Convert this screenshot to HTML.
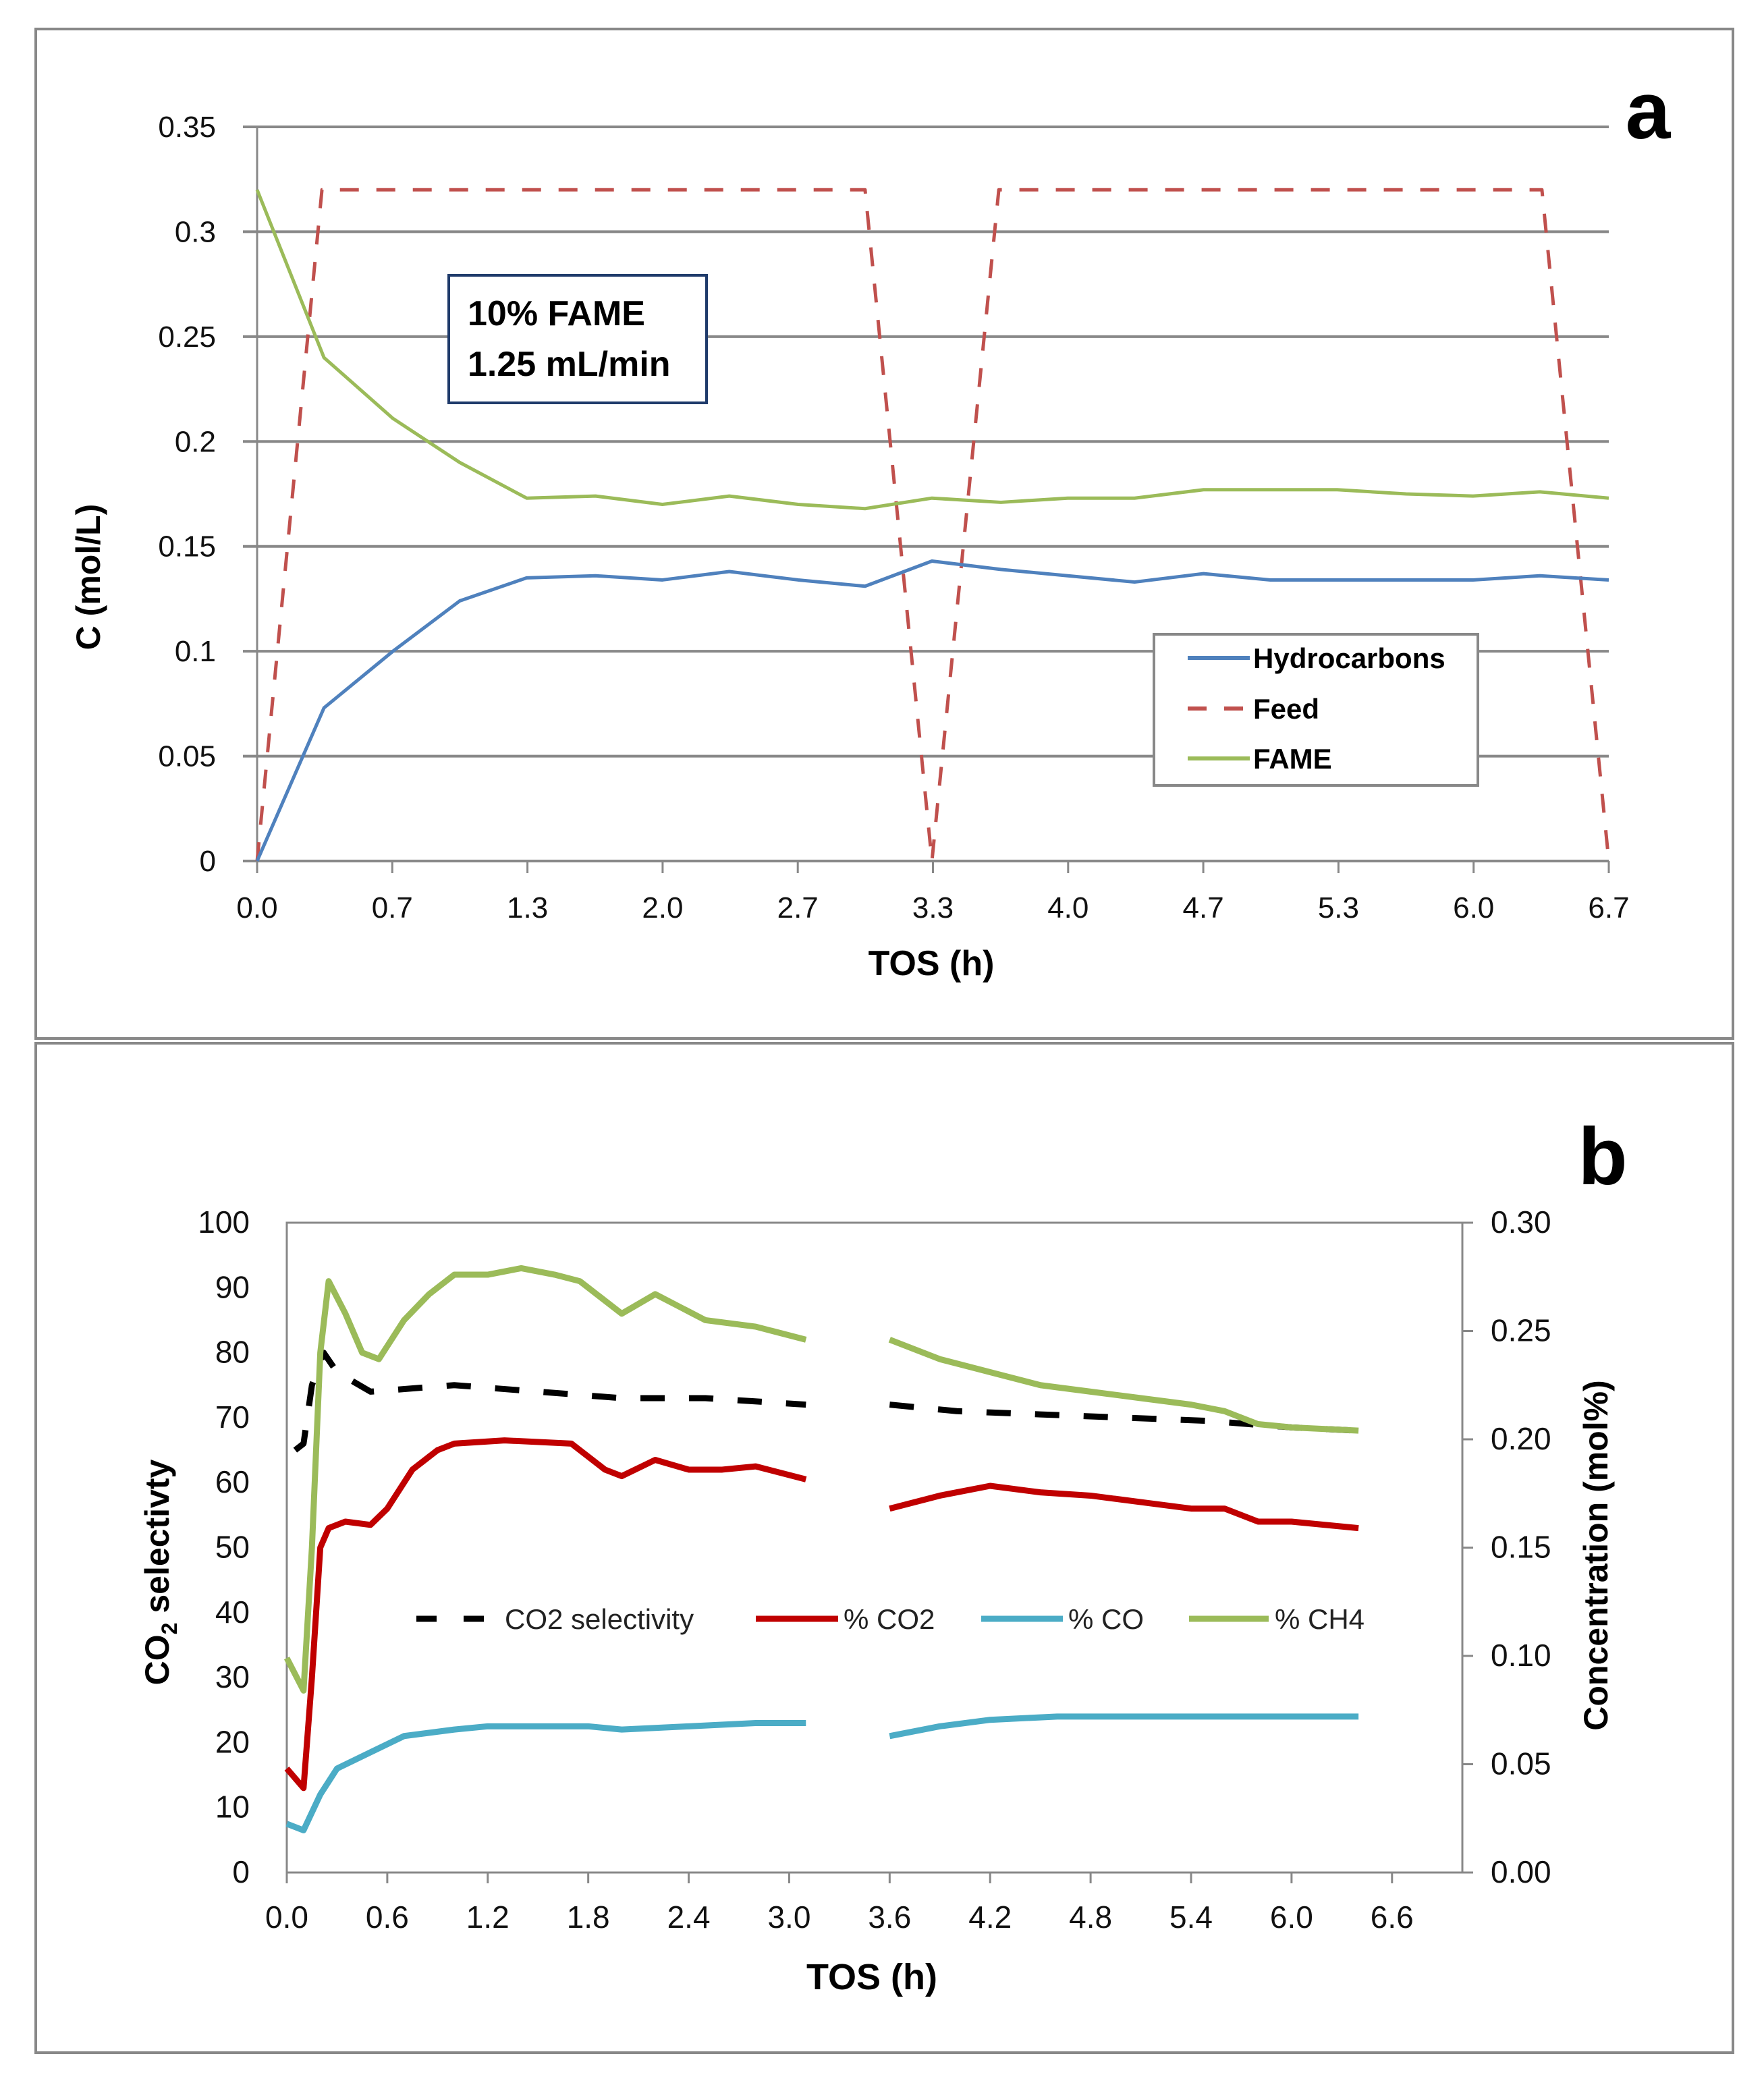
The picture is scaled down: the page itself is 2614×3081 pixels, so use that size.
<!DOCTYPE html>
<html><head><meta charset="utf-8"><style>
html,body{margin:0;padding:0;background:#fff;}
svg{display:block;font-family:"Liberation Sans",sans-serif;}
</style></head><body>
<svg id="fig" width="2614" height="3081" viewBox="0 0 2614 3081">
<rect x="53" y="43" width="2515" height="1496" fill="none" stroke="#888" stroke-width="4"/>
<rect x="53" y="1546" width="2515" height="1496" fill="none" stroke="#888" stroke-width="4"/>
<g id="pa"></g>
<g id="pb"></g>
<text x="2442" y="205" font-size="120" font-weight="bold" text-anchor="middle">a</text>
<text x="2375" y="1755" font-size="120" font-weight="bold" text-anchor="middle">b</text>
</svg>
<script>
// ---------- Panel a data ----------
const aTicksX = ["0.0","0.7","1.3","2.0","2.7","3.3","4.0","4.7","5.3","6.0","6.7"];
const aTicksY = ["0","0.05","0.1","0.15","0.2","0.25","0.3","0.35"];
const hcT = [0,0.33,0.67,1.0,1.33,1.67,2.0,2.33,2.67,3.0,3.33,3.67,4.0,4.33,4.67,5.0,5.33,6.0,6.33,6.67];
const hcV = [0,0.073,0.1,0.124,0.135,0.136,0.134,0.138,0.134,0.131,0.143,0.139,0.136,0.133,0.137,0.134,0.134,0.134,0.136,0.134];
const feedT = [0,0.32,3.0,3.33,3.66,6.34,6.67];
const feedV = [0,0.32,0.32,0,0.32,0.32,0];
const fameT = [0,0.33,0.67,1.0,1.33,1.67,2.0,2.33,2.67,3.0,3.33,3.67,4.0,4.33,4.67,5.0,5.33,5.67,6.0,6.33,6.67];
const fameV = [0.32,0.24,0.211,0.19,0.173,0.174,0.17,0.174,0.17,0.168,0.173,0.171,0.173,0.173,0.177,0.177,0.177,0.175,0.174,0.176,0.173];
// ---------- Panel b data ----------
const bTicksX = ["0.0","0.6","1.2","1.8","2.4","3.0","3.6","4.2","4.8","5.4","6.0","6.6"];
const bTicksL = ["0","10","20","30","40","50","60","70","80","90","100"];
const bTicksR = ["0.00","0.05","0.10","0.15","0.20","0.25","0.30"];
const selT1 = [0.05,0.1,0.15,0.22,0.3,0.5,1.0,1.5,2.0,2.5,3.1];
const selV1 = [65,66,75,80,77,74,75,74,73,73,72];
const selT2 = [3.6,4.0,4.5,5.0,5.5,6.0,6.4];
const selV2 = [72,71,70.5,70,69.5,68.5,68];
const co2T1 = [0,0.1,0.15,0.2,0.25,0.35,0.5,0.6,0.75,0.9,1.0,1.3,1.7,1.9,2.0,2.2,2.4,2.6,2.8,3.1];
const co2V1 = [0.048,0.039,0.09,0.15,0.159,0.162,0.1605,0.168,0.186,0.195,0.198,0.1995,0.198,0.186,0.183,0.1905,0.186,0.186,0.1875,0.1815];
const co2T2 = [3.6,3.9,4.2,4.5,4.8,5.1,5.4,5.6,5.8,6.0,6.4];
const co2V2 = [0.168,0.174,0.1785,0.1755,0.174,0.171,0.168,0.168,0.162,0.162,0.159];
const coT1 = [0,0.1,0.2,0.3,0.5,0.7,1.0,1.2,1.8,2.0,2.4,2.8,3.1];
const coV1 = [0.0225,0.0195,0.036,0.048,0.0555,0.063,0.066,0.0675,0.0675,0.066,0.0675,0.069,0.069];
const coT2 = [3.6,3.9,4.2,4.6,5.0,5.5,6.0,6.4];
const coV2 = [0.063,0.0675,0.0705,0.072,0.072,0.072,0.072,0.072];
const ch4T1 = [0,0.1,0.15,0.2,0.25,0.35,0.45,0.55,0.7,0.85,1.0,1.2,1.4,1.6,1.75,1.9,2.0,2.2,2.35,2.5,2.8,3.1];
const ch4V1 = [0.099,0.084,0.15,0.24,0.273,0.258,0.24,0.237,0.255,0.267,0.276,0.276,0.279,0.276,0.273,0.264,0.258,0.267,0.261,0.255,0.252,0.246];
const ch4T2 = [3.6,3.9,4.2,4.5,4.8,5.1,5.4,5.6,5.8,6.0,6.4];
const ch4V2 = [0.246,0.237,0.231,0.225,0.222,0.219,0.216,0.213,0.207,0.2055,0.204];

const NS="http://www.w3.org/2000/svg";
function mk(tag,attrs,parent){const e=document.createElementNS(NS,tag);for(const k in attrs)e.setAttribute(k,attrs[k]);parent.appendChild(e);return e;}
function txt(s,attrs,parent){const e=mk("text",attrs,parent);e.textContent=s;return e;}

// ---------- Panel a ----------
const pa=document.getElementById("pa");
const aL=381,aR=2384,aT=188,aB=1276,aXmax=6.67,aYmax=0.35;
const ax=t=>aL+t/aXmax*(aR-aL);
const ay=v=>aB-v/aYmax*(aB-aT);
aTicksY.forEach((s,i)=>{
  const v=i*0.05,y=ay(v);
  const g=mk("line",{x1:360,x2:aR,y1:y,y2:y,stroke:"#888","stroke-width":4},pa);
  
  
  const t=txt(s,{x:320,y:y+15,"font-size":44,"text-anchor":"end",fill:"#111"},pa);
  
  
});
mk("line",{x1:aL,x2:aL,y1:aT,y2:aB,stroke:"#888","stroke-width":3},pa);
aTicksX.forEach((s,i)=>{
  const x=aL+i*(aR-aL)/10;
  const k=mk("line",{x1:x,x2:x,y1:aB,y2:aB+18,stroke:"#888","stroke-width":3},pa);
  
  
  const t=txt(s,{x:x,y:1360,"font-size":44,"text-anchor":"middle",fill:"#111"},pa);
  
  
});
function poly(T,V,fx,fy,attrs,parent,name){
  const p=mk("polyline",Object.assign({points:T.map((t,i)=>fx(t)+","+fy(V[i])).join(" "),fill:"none","stroke-linejoin":"round"},attrs),parent);
  
  
  return p;
}
poly(feedT,feedV,ax,ay,{stroke:"#c0504d","stroke-width":5,"stroke-dasharray":"28 26"},pa,"feed-line");
poly(fameT,fameV,ax,ay,{stroke:"#9bbb59","stroke-width":5},pa,"fame-line");
poly(hcT,hcV,ax,ay,{stroke:"#4f81bd","stroke-width":5},pa,"hydrocarbons-line");
const tA=txt("TOS (h)",{x:1380,y:1445,"font-size":52,"font-weight":"bold","text-anchor":"middle"},pa);


const yA=txt("C (mol/L)",{x:0,y:0,"font-size":50,"font-weight":"bold","text-anchor":"middle",transform:"translate(148,855) rotate(-90)"},pa);


// annotation box
const bx=mk("rect",{x:665,y:408,width:382,height:189,fill:"#fff",stroke:"#1f3b6b","stroke-width":4},pa);


const a1=txt("10% FAME",{x:693,y:482,"font-size":52,"font-weight":"bold"},pa);


const a2=txt("1.25 mL/min",{x:693,y:557,"font-size":52,"font-weight":"bold"},pa);


// legend a
const lg=mk("rect",{x:1710,y:940,width:480,height:224,fill:"#fff",stroke:"#888","stroke-width":4},pa);


[["Hydrocarbons","#4f81bd",null,975],["Feed","#c0504d","28 26",1050],["FAME","#9bbb59",null,1124]].forEach(([n,c,d,y])=>{
  const l=mk("line",{x1:1760,x2:1852,y1:y,y2:y,stroke:c,"stroke-width":6},pa);
  if(d)l.setAttribute("stroke-dasharray",d);
  
  
  const t=txt(n,{x:1857,y:y+15,"font-size":42,"font-weight":"bold"},pa);
  
  
});

// ---------- Panel b ----------
const pb=document.getElementById("pb");
const bL=425,bR=2167,bT=1812,bB=2775,bXmax=7.02;
const bx2=t=>bL+t/bXmax*(bR-bL);
const byL=v=>bB-v/100*(bB-bT);
const byR=v=>bB-v/0.30*(bB-bT);
mk("rect",{x:bL,y:bT,width:bR-bL,height:bB-bT,fill:"none",stroke:"#888","stroke-width":3},pb);
bTicksL.forEach((s,i)=>{
  const y=byL(i*10);
  const t=txt(s,{x:370,y:y+15,"font-size":46,"text-anchor":"end",fill:"#111"},pb);
  
  
});
bTicksR.forEach((s,i)=>{
  const y=byR(i*0.05);
  mk("line",{x1:bR,x2:bR+16,y1:y,y2:y,stroke:"#888","stroke-width":3},pb);
  const t=txt(s,{x:2209,y:y+15,"font-size":46,fill:"#111"},pb);
  
  
});
bTicksX.forEach((s,i)=>{
  const x=bx2(i*0.6);
  mk("line",{x1:x,x2:x,y1:bB,y2:bB+16,stroke:"#888","stroke-width":3},pb);
  const t=txt(s,{x:x,y:2857,"font-size":46,"text-anchor":"middle",fill:"#111"},pb);
  
  
});
poly(coT1,coV1,bx2,byR,{stroke:"#4bacc6","stroke-width":9},pb,"co-line-1");
poly(coT2,coV2,bx2,byR,{stroke:"#4bacc6","stroke-width":9},pb,"co-line-2");
poly(co2T1,co2V1,bx2,byR,{stroke:"#c00000","stroke-width":9},pb,"co2-line-1");
poly(co2T2,co2V2,bx2,byR,{stroke:"#c00000","stroke-width":9},pb,"co2-line-2");
poly(selT1,selV1,bx2,byL,{stroke:"#000","stroke-width":9,"stroke-dasharray":"36 36"},pb,"co2-selectivity-line-1");
poly(selT2,selV2,bx2,byL,{stroke:"#000","stroke-width":9,"stroke-dasharray":"36 36"},pb,"co2-selectivity-line-2");
poly(ch4T1,ch4V1,bx2,byR,{stroke:"#9bbb59","stroke-width":9},pb,"ch4-line-1");
poly(ch4T2,ch4V2,bx2,byR,{stroke:"#9bbb59","stroke-width":9},pb,"ch4-line-2");
[["CO2 selectivity","#000","30 40",617,725,748],["% CO2","#c00000",null,1120,1242,1250],["% CO","#4bacc6",null,1454,1575,1583],["% CH4","#9bbb59",null,1762,1880,1889]].forEach(([n,c,d,x1,x2,tx])=>{
  const l=mk("line",{x1:x1,x2:x2,y1:2399,y2:2399,stroke:c,"stroke-width":9},pb);
  if(d)l.setAttribute("stroke-dasharray",d);
  
  
  const t=txt(n,{x:tx,y:2414,"font-size":42,fill:"#222"},pb);
  
  
});
const tB=txt("TOS (h)",{x:1292,y:2948,"font-size":54,"font-weight":"bold","text-anchor":"middle"},pb);


const yl=mk("text",{x:0,y:0,"font-size":50,"font-weight":"bold","text-anchor":"middle",transform:"translate(250,2330) rotate(-90)"},pb);
yl.innerHTML='CO<tspan font-size="32" dy="12">2</tspan><tspan dy="-12"> selectivty</tspan>';


const yr=txt("Concentration (mol%)",{x:0,y:0,"font-size":50,"font-weight":"bold","text-anchor":"middle",transform:"translate(2382,2305) rotate(-90)"},pb);


</script>
</body></html>
